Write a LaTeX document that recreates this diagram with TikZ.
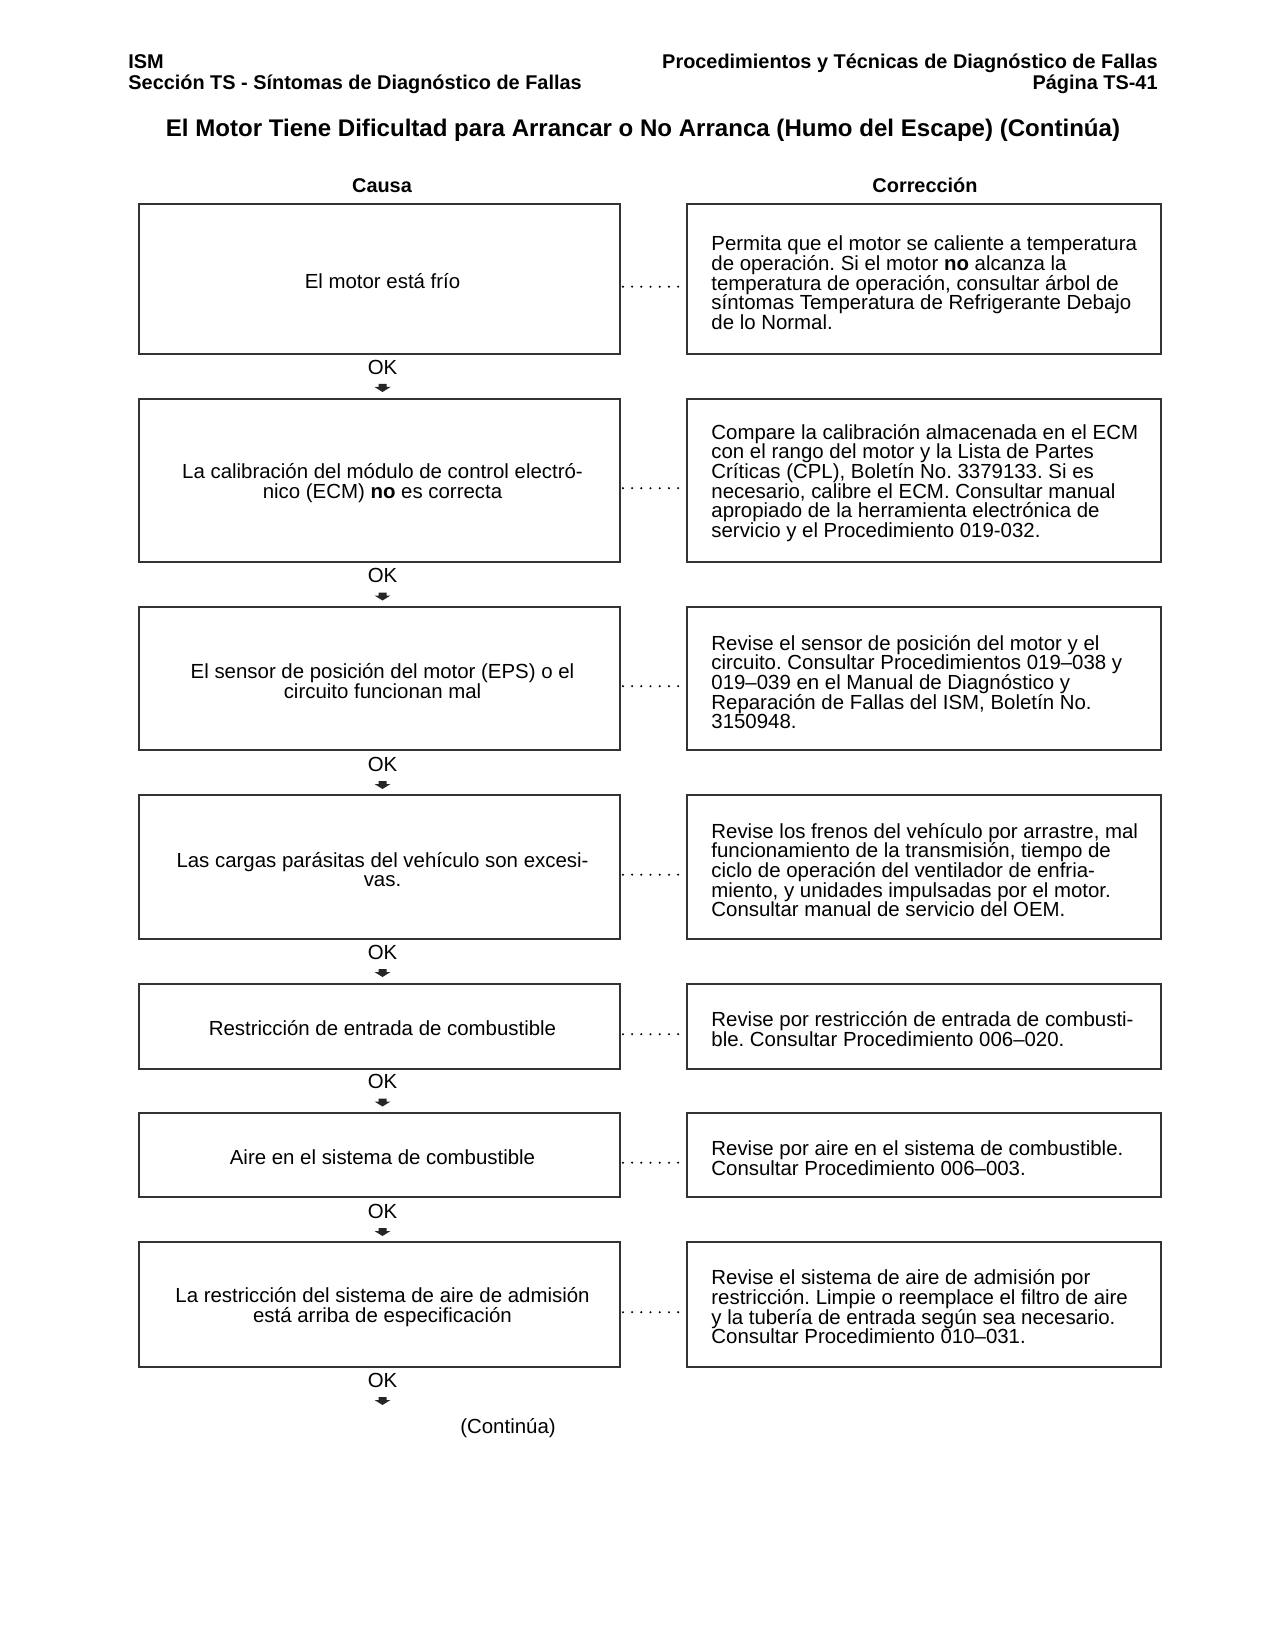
\documentclass[tikz,border=0pt]{standalone}
\usepackage{fontspec}
\setmainfont{Liberation Sans}
\frenchspacing
\newcommand{\bodyfont}{\fontsize{9.8}{9.45}\selectfont\lineskiplimit=-20pt\relax}
\newcommand{\hdrfont}{\fontsize{9.55}{11}\selectfont\bfseries}
\newcommand{\ttlfont}{\fontsize{11.55}{13}\selectfont\bfseries}
\newcommand{\okarrow}[1]{\fill[black!85] ([yshift=-8.16pt]#1.center) ++(-4,0) -- ++(8,0) -- ++(0,3) -- ++(4,0) -- ++(-8,5) -- ++(-8,-5) -- ++(4,0) -- cycle;}
\begin{document}
\begin{tikzpicture}[x=0.48pt, y=-0.48pt,
  hdr/.style={font=\hdrfont, inner sep=0pt},
  ttl/.style={font=\ttlfont, inner sep=0pt},
  lbox/.style={draw=black!80, line width=0.6pt, minimum width=230.88pt, inner sep=0pt},
  rbox/.style={draw=black!80, line width=0.6pt, minimum width=227.52pt, inner sep=0pt},
  ltext/.style={align=center, inner sep=0pt, font=\bodyfont},
  rtext/.style={anchor=west, align=left, inner sep=0pt, font=\bodyfont},
  oklbl/.style={font=\bodyfont, inner sep=0pt},
  dotline/.style={line width=1.1pt, line cap=round, dash pattern=on 0pt off 4.416pt, shorten <=1.1pt, shorten >=3.2pt}
]
\fill[white] (0,0) rectangle (1275,1650);
\useasboundingbox (0,0) rectangle (1275,1650);

% headers
\node[hdr, anchor=base west] (hism) at (128,69) {ISM};
\node[hdr, anchor=base west] (hsec) at (128,90) {Sección TS - Síntomas de Diagnóstico de Fallas};
\node[hdr, anchor=base east] (hproc) at (1158,69) {Procedimientos y Técnicas de Diagnóstico de Fallas};
\node[hdr, anchor=base east] (hpag) at (1158,90) {Página TS-41};
\node[ttl, anchor=base] (title) at (643,137) {El Motor Tiene Dificultad para Arrancar o No Arranca (Humo del Escape) (Continúa)};
\node[hdr, anchor=base] (causa) at (382,192.5) {Causa};
\node[hdr, anchor=base] (corr) at (925,192.5) {Corrección};

% row 1
\node[lbox, minimum height=72pt] (l1) at (379.5,279) {};
\node[ltext] (s1) at (382.5,281.5) {El motor está frío};
\node[rbox, minimum height=72pt] (r1) at (924,279) {};
\node[rtext] (t1) at (711,283) {Permita que el motor se caliente a temperatura\\de operación. Si el motor \textbf{no} alcanza la\\temperatura de operación, consultar árbol de\\síntomas Temperatura de Refrigerante Debajo\\de lo Normal.};
\draw[dotline] ([yshift=-3.7pt]l1.east) -- ([yshift=-3.7pt]r1.west);
\node[oklbl] (ok1) at (382.5,367) {OK};
\okarrow{ok1}

% row 2
\node[lbox, minimum height=78.24pt] (l2) at (379.5,480.5) {};
\node[ltext] (s2) at (382.5,483) {La calibración del módulo de control electró-\\nico (ECM) \textbf{no} es correcta};
\node[rbox, minimum height=78.24pt] (r2) at (924,480.5) {};
\node[rtext] (t2) at (711,483) {Compare la calibración almacenada en el ECM\\con el rango del motor y la Lista de Partes\\Críticas (CPL), Boletín No. 3379133. Si es\\necesario, calibre el ECM. Consultar manual\\apropiado de la herramienta electrónica de\\servicio y el Procedimiento 019-032.};
\draw[dotline] ([yshift=-3.7pt]l2.east) -- ([yshift=-3.7pt]r2.west);
\node[oklbl] (ok2) at (382.5,575.5) {OK};
\okarrow{ok2}

% row 3
\node[lbox, minimum height=68.64pt] (l3) at (379.5,678.5) {};
\node[ltext] (s3) at (382.5,681) {El sensor de posición del motor (EPS) o el\\circuito funcionan mal};
\node[rbox, minimum height=68.64pt] (r3) at (924,678.5) {};
\node[rtext] (t3) at (711,682) {Revise el sensor de posición del motor y el\\circuito. Consultar Procedimientos 019–038 y\\019–039 en el Manual de Diagnóstico y\\Reparación de Fallas del ISM, Boletín No.\\3150948.};
\draw[dotline] ([yshift=-3.7pt]l3.east) -- ([yshift=-3.7pt]r3.west);
\node[oklbl] (ok3) at (382.5,764) {OK};
\okarrow{ok3}

% row 4
\node[lbox, minimum height=69.12pt] (l4) at (379.5,867) {};
\node[ltext] (s4) at (382.5,869.5) {Las cargas parásitas del vehículo son excesi-\\vas.};
\node[rbox, minimum height=69.12pt] (r4) at (924,867) {};
\node[rtext] (t4) at (711,870) {Revise los frenos del vehículo por arrastre, mal\\funcionamiento de la transmisión, tiempo de\\ciclo de operación del ventilador de enfria-\\miento, y unidades impulsadas por el motor.\\Consultar manual de servicio del OEM.};
\draw[dotline] ([yshift=-3.7pt]l4.east) -- ([yshift=-3.7pt]r4.west);
\node[oklbl] (ok4) at (382.5,952) {OK};
\okarrow{ok4}

% row 5
\node[lbox, minimum height=40.8pt] (l5) at (379.5,1026.5) {};
\node[ltext] (s5) at (382.5,1028.5) {Restricción de entrada de combustible};
\node[rbox, minimum height=40.8pt] (r5) at (924,1026.5) {};
\node[rtext] (t5) at (711,1029) {Revise por restricción de entrada de combusti-\\ble. Consultar Procedimiento 006–020.};
\draw[dotline] ([yshift=-3.7pt]l5.east) -- ([yshift=-3.7pt]r5.west);
\node[oklbl] (ok5) at (382.5,1081.5) {OK};
\okarrow{ok5}

% row 6
\node[lbox, minimum height=40.32pt] (l6) at (379.5,1155) {};
\node[ltext] (s6) at (382.5,1157) {Aire en el sistema de combustible};
\node[rbox, minimum height=40.32pt] (r6) at (924,1155) {};
\node[rtext] (t6) at (711,1158) {Revise por aire en el sistema de combustible.\\Consultar Procedimiento 006–003.};
\draw[dotline] ([yshift=-3.7pt]l6.east) -- ([yshift=-3.7pt]r6.west);
\node[oklbl] (ok6) at (382.5,1211) {OK};
\okarrow{ok6}

% row 7
\node[lbox, minimum height=60pt] (l7) at (379.5,1304.5) {};
\node[ltext] (s7) at (382.5,1307) {La restricción del sistema de aire de admisión\\está arriba de especificación};
\node[rbox, minimum height=60pt] (r7) at (924,1304.5) {};
\node[rtext] (t7) at (711,1307) {Revise el sistema de aire de admisión por\\restricción. Limpie o reemplace el filtro de aire\\y la tubería de entrada según sea necesario.\\Consultar Procedimiento 010–031.};
\draw[dotline] ([yshift=-3.7pt]l7.east) -- ([yshift=-3.7pt]r7.west);
\node[oklbl] (ok7) at (382.5,1380) {OK};
\okarrow{ok7}

\node[oklbl] (cont) at (508,1428) {(Continúa)};
\end{tikzpicture}
\end{document}
